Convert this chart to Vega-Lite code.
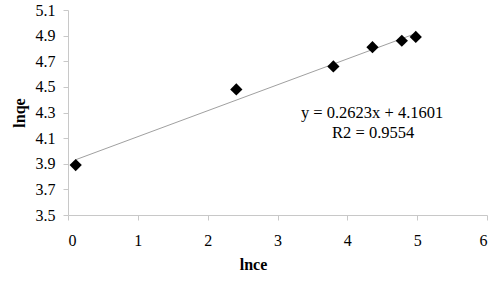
{
  "$schema": "https://vega.github.io/schema/vega-lite/v6.json",
  "width": 419,
  "height": 205,
  "autosize": {"type": "none"},
  "padding": {"left": 68, "top": 10, "right": 13, "bottom": 68},
  "background": "white",
  "config": {
    "view": {"stroke": null},
    "font": "Liberation Serif"
  },
  "datasets": {
    "pts": [
      {"lnce": 0.11, "lnqe": 3.89},
      {"lnce": 2.41, "lnqe": 4.48},
      {"lnce": 3.80, "lnqe": 4.66},
      {"lnce": 4.36, "lnqe": 4.81},
      {"lnce": 4.78, "lnqe": 4.86},
      {"lnce": 4.98, "lnqe": 4.89}
    ],
    "notes": [
      {"lnce": 4.355, "lnqe": 4.26, "label": "y = 0.2623x + 4.1601"},
      {"lnce": 4.37, "lnqe": 4.099, "label": "R2 = 0.9554"}
    ]
  },
  "encoding": {
    "x": {
      "field": "lnce", "type": "quantitative",
      "scale": {"domain": [0, 6], "nice": false, "zero": false},
      "axis": {
        "values": [0, 1, 2, 3, 4, 5, 6], "format": "d", "title": "lnce",
        "grid": false, "domainColor": "#c8c8c8", "tickColor": "#c8c8c8", "tickSize": 5,
        "labelFont": "Liberation Serif", "labelFontSize": 16, "labelColor": "#000000", "labelOverlap": false, "labelPadding": 12,
        "titleFont": "Liberation Serif", "titleFontSize": 16, "titleFontWeight": "bold", "titleColor": "#000000",
        "titlePadding": 8, "titleX": 185
      }
    },
    "y": {
      "field": "lnqe", "type": "quantitative",
      "scale": {"domain": [3.5, 5.1], "nice": false, "zero": false},
      "axis": {
        "values": [3.5, 3.7, 3.9, 4.1, 4.3, 4.5, 4.7, 4.9, 5.1], "format": ".1f", "title": "lnqe",
        "grid": false, "domainColor": "#c8c8c8", "tickColor": "#c8c8c8", "tickSize": 5,
        "labelFont": "Liberation Serif", "labelFontSize": 16, "labelColor": "#000000", "labelOverlap": false, "labelPadding": 8,
        "titleFont": "Liberation Serif", "titleFontSize": 16, "titleFontWeight": "bold", "titleColor": "#000000",
        "titlePadding": 8
      }
    }
  },
  "layer": [
    {
      "data": {"name": "pts"},
      "transform": [{"regression": "lnqe", "on": "lnce", "method": "linear"}],
      "mark": {"type": "line", "color": "#a0a0a0", "strokeWidth": 1}
    },
    {
      "data": {"name": "pts"},
      "mark": {"type": "point", "shape": "diamond", "filled": true, "color": "#000000", "size": 150, "opacity": 1}
    },
    {
      "data": {"name": "notes"},
      "mark": {"type": "text", "font": "Liberation Serif", "fontSize": 16.5, "color": "#000000", "align": "center", "baseline": "alphabetic"},
      "encoding": {
        "text": {"field": "label"}
      }
    }
  ]
}
